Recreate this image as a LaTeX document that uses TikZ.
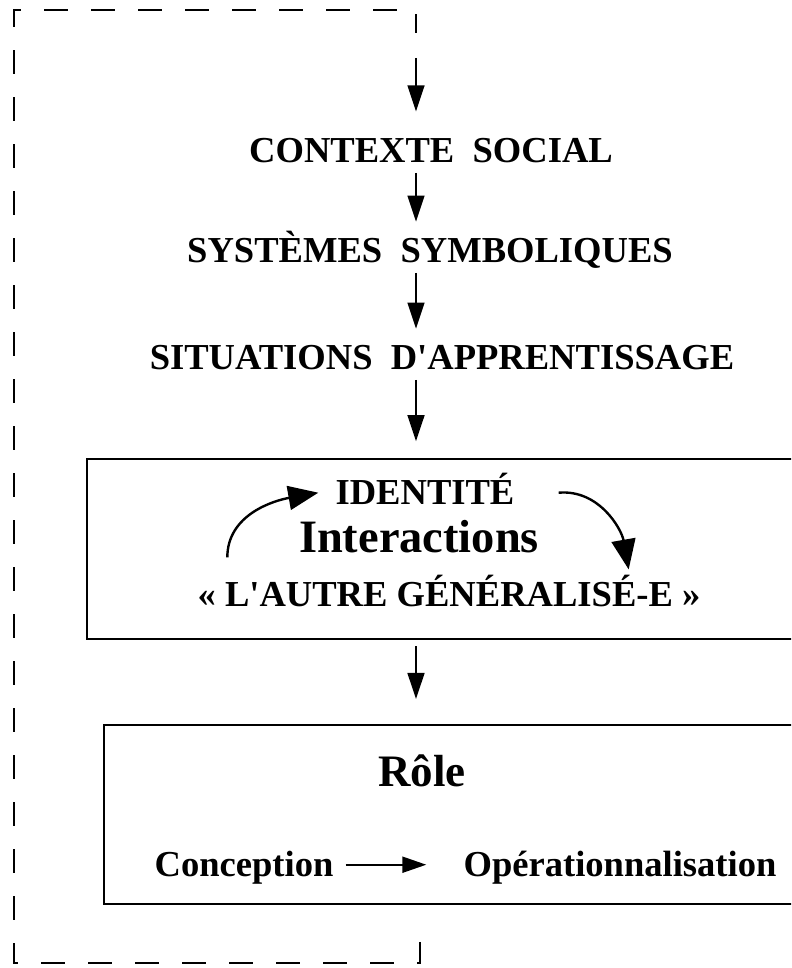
\documentclass[tikz,border=0pt]{standalone}
\usepackage{fontspec}
\setmainfont{Liberation Serif}
\usepackage{tikz}
\usetikzlibrary{arrows.meta,calc}
\tikzstyle{tsBoldCaps} = [ 
    text=black, 
    font=\bfseries\fontsize{26}{30}\selectfont,
    inner sep=0pt,
    text height=0.6cm,
    text depth=0pt
]
\tikzstyle{tsBigBold} = [ 
    tsBoldCaps, 
    font=\bfseries\fontsize{33}{38}\selectfont,
    text height=0.75cm
]
\tikzstyle{tsFrame} = [ 
    rectangle,
    draw=black,
    line width=1.4pt]
\tikzstyle{tsFlow} = [ 
    -{Triangle[length=0.65cm,width=0.42cm]},
    line width=1.5pt,
    shorten <=0.25cm,
    shorten >=0.42cm
]
\tikzstyle{tsCycle} = [ 
    -{Triangle[length=0.75cm,width=0.6cm]},
    line width=1.7pt
]
\tikzstyle{tsFeedback} = [ 
    line width=1.8pt,
    dash pattern=on 0.6cm off 0.575cm
]

\begin{document}
\begin{tikzpicture} [x=0.025cm, y=0.025cm]
        \useasboundingbox (0,0) rectangle (791,968);
        \clip (0,0) rectangle (791,968);

        % Define nodes
        \node[tsBoldCaps, anchor=south] (ctx) at (431,805) {CONTEXTE\ \ SOCIAL};
        \node[tsBoldCaps, anchor=south] (sym) at (430,705) {SYSTÈMES\ \ SYMBOLIQUES};
        \node[tsBoldCaps, anchor=south] (sit) at (442,598) {SITUATIONS\ \ D\textquotesingle APPRENTISSAGE};

        \node[  tsFrame, 
                minimum width=18.075cm,
                minimum height=4.5cm] (idbox) at (448.5,419) {};
        \node[tsBoldCaps, anchor=south] (ident) at (425,463) {IDENTITÉ};
        \node[tsBigBold, anchor=south] (inter) at (419,415) {Interactions};
        \node[tsBoldCaps, anchor=south] (autre) at (449,361) {« L\textquotesingle AUTRE GÉNÉRALISÉ-E »};

        \node[  tsFrame, 
                minimum width=17.65cm,
                minimum height=4.475cm] (rolebox) at (457,153.5) {};
        \node[tsBigBold, anchor=south, font=\bfseries\fontsize{32}{36}\selectfont] (role) at (422,181) {Rôle};
        \node[tsBoldCaps, anchor=south] (conc) at (244,91) {Conception};
        \node[tsBoldCaps, anchor=south] (oper) at (620,91) {Opérationnalisation};

        \coordinate (col) at (416,0);
        \coordinate (fbStart) at (420,26);
        \coordinate (fbEnd) at (416,910);

        % Flow
        \draw[tsFlow] (ctx.south -| col) -- (sym.north -| col);
        \draw[tsFlow] (sym.south -| col) -- (sit.north -| col);
        \draw[tsFlow] (sit.south -| col) -- (idbox.north -| col);
        \draw[tsFlow, shorten <=0.15cm, shorten >=0.625cm] (idbox.south -| col) -- (rolebox.north -| col);
        \draw[tsFlow, shorten <=0pt, shorten >=0.675cm] (fbEnd) -- (ctx.north -| col);

        \draw[tsCycle] ([xshift=0.75cm,yshift=0.625cm]autre.north west) to[out=90, in=190] ([xshift=-0.425cm]ident.west);
        \draw[tsCycle] ([xshift=1.1cm]ident.east) to[out=5, in=100] ([xshift=-1.8cm,yshift=0.325cm]autre.north east);

        \draw[-{Triangle[length=0.6cm,width=0.4cm]}, line width=1.5pt, shorten <=0.3cm, shorten >=0.925cm] (conc.east) -- (oper.west);

        % Feedback loop
        \draw[tsFeedback] (fbStart) -- (420,5) -- (14,5) -- (14,958) -- (416,958) -- (416,935);

    \end{tikzpicture}
\end{document}
